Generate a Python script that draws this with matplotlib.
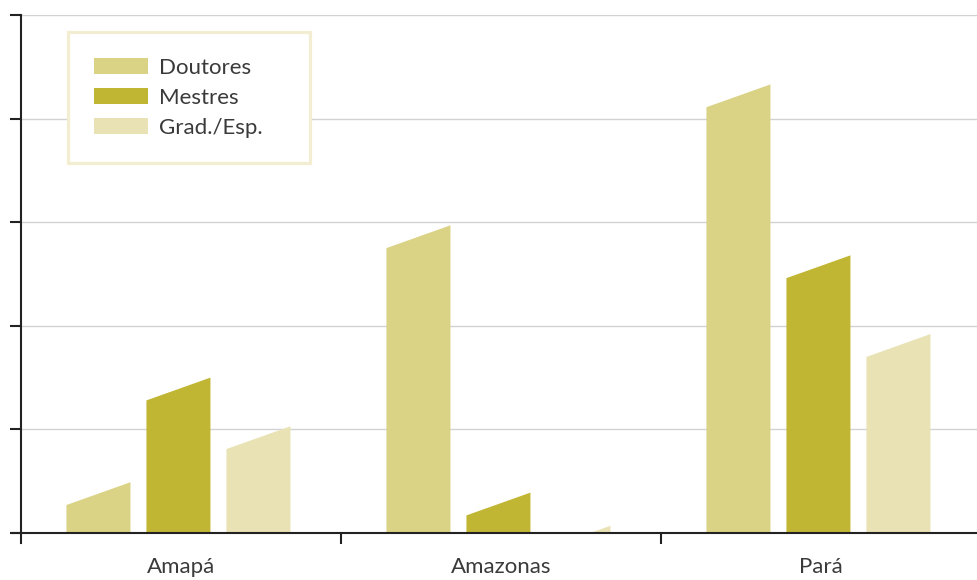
import matplotlib
matplotlib.use("Agg")
import matplotlib.pyplot as plt
from matplotlib.patches import Patch

# ── data ────────────────────────────────────────────────────────────────────
estados = ["Amapá", "Amazonas", "Pará"]
series = ["Doutores", "Mestres", "Grad./Esp."]
doutores = [0.49, 2.97, 4.33]
mestres = [1.50, 0.39, 2.68]
grad_esp = [1.03, 0.07, 1.92]

COLORS = ["#dad285", "#c0b633", "#e8e2b4"]
TEXT = "#3a3a3a"
AXIS = "#222222"

plt.rcParams["font.family"] = ["Lato", "DejaVu Sans"]

fig = plt.figure(figsize=(9.77, 5.8), dpi=100)
ax = fig.add_axes([21 / 977, 1 - 533 / 580, 960 / 977, 518 / 580])

width = 0.2
step = 0.25
slant = 0.22  # height gained across the slanted top

for j, (vals, color) in enumerate(zip([doutores, mestres, grad_esp], COLORS)):
    for i, v in enumerate(vals):
        x0 = i - 0.008 + (j - 1) * step - width / 2
        x1 = x0 + width
        ax.fill([x0, x1, x1, x0], [0, 0, v, v - slant],
                color=color, edgecolor="none", zorder=2)

ax.set_xlim(-0.5, 2.5)
ax.set_ylim(0, 5)
ax.set_yticks(range(6))
ax.set_yticklabels([])
ax.grid(axis="y", color="#d2d2d2", linewidth=1.0, zorder=3)

ax.set_xticks(range(3))
ax.set_xticklabels(estados, fontsize=16, color=TEXT)
ax.tick_params(axis="x", which="major", length=0, pad=17)
ax.set_xticks([0.5, 1.5], minor=True)
ax.tick_params(axis="x", which="minor", length=8, width=1.5, color=AXIS,
               direction="out")
ax.tick_params(axis="y", length=8, width=1.5, color=AXIS, direction="out")

for side in ("top", "right"):
    ax.spines[side].set_visible(False)
for side in ("left", "bottom"):
    ax.spines[side].set_color(AXIS)
    ax.spines[side].set_linewidth(1.5)
    ax.spines[side].set_zorder(4)
ax.spines["left"].set_bounds(-0.02 * 5, 5)
# bottom axis line runs slightly past the y axis
ax.plot([-0.5 - 0.03, -0.5], [0, 0], color=AXIS, lw=1.5, clip_on=False,
        solid_capstyle="butt", zorder=4)

handles = [Patch(facecolor=c, edgecolor="none") for c in COLORS]
leg = ax.legend(handles, series, loc="upper left",
                bbox_to_anchor=(0.049, 0.967, 0.252, 0.0), mode="expand",
                prop={"size": 16},
                frameon=True, fancybox=False, handlelength=2.43,
                handleheight=0.77, handletextpad=0.5, labelspacing=0.45,
                borderpad=1.15, borderaxespad=0)
for t in leg.get_texts():
    t.set_color(TEXT)
frame = leg.get_frame()
frame.set_edgecolor("#f3edd2")
frame.set_linewidth(2.3)
frame.set_facecolor("white")
frame.set_alpha(1)
leg.set_zorder(5)

fig.savefig("out.png", dpi=100)
